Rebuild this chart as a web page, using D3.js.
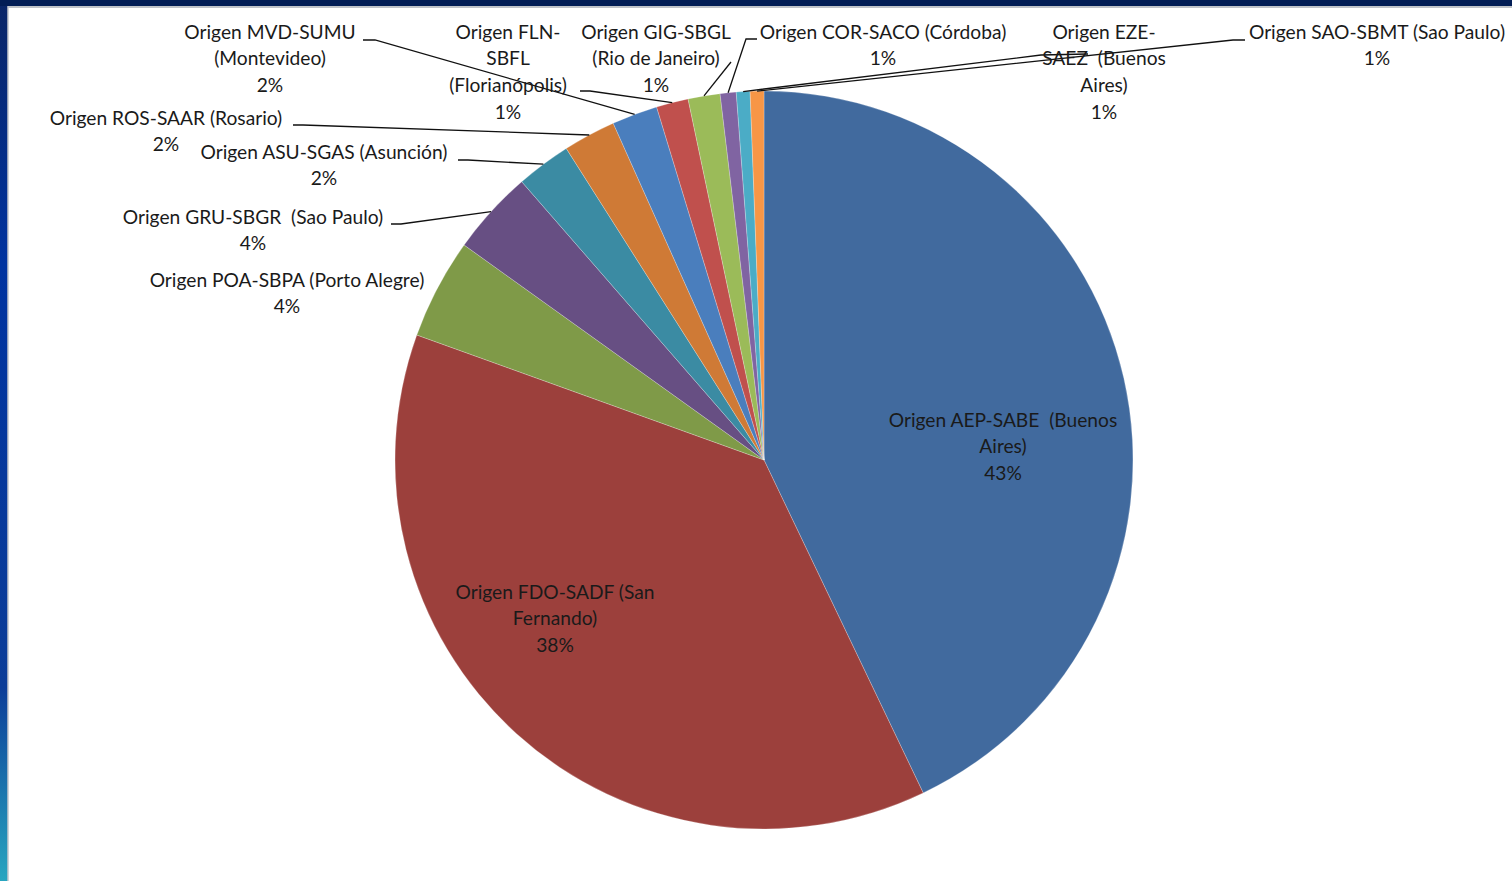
<!DOCTYPE html>
<html>
<head>
<meta charset="utf-8">
<script src="https://cdn.jsdelivr.net/npm/d3@7"></script>
<style>
  html, body { margin: 0; padding: 0; background: #fff; overflow: hidden; }
  svg { display: block; }
  text { font-family: Lato, "Open Sans", sans-serif; white-space: pre; }
</style>
</head>
<body>
<svg id="chart" width="1512" height="881"></svg>
<script>
// ---- data ----
const categories = [
  ["Origen AEP-SABE  (Buenos", "Aires)"],
  ["Origen FDO-SADF (San", "Fernando)"],
  ["Origen POA-SBPA (Porto Alegre)"],
  ["Origen GRU-SBGR  (Sao Paulo)"],
  ["Origen ASU-SGAS (Asunción)"],
  ["Origen ROS-SAAR (Rosario)"],
  ["Origen MVD-SUMU", "(Montevideo)"],
  ["Origen FLN-", "SBFL", "(Florianópolis)"],
  ["Origen GIG-SBGL", "(Rio de Janeiro)"],
  ["Origen COR-SACO (Córdoba)"],
  ["Origen EZE-", "SAEZ  (Buenos", "Aires)"],
  ["Origen SAO-SBMT (Sao Paulo)"]
];
const values = [42.9, 37.6, 4.4, 3.7, 2.4, 2.3, 2.0, 1.4, 1.4, 0.7, 0.6, 0.6];
const colors = ["#416a9e", "#9c403c", "#7f9a48", "#674f83", "#3b8ba3", "#cf7a36",
                "#4a7ebd", "#c0504d", "#9bbb59", "#8064a2", "#4bacc6", "#f79646"];

// ---- layout (label anchors: centre x, first-line centre y; leader start) ----
const labelLayout = [
  { x: 1003, y: 420 },
  { x: 555, y: 592 },
  { x: 287, y: 280 },
  { x: 253, y: 217, lead: [[391, 224], [401, 224]] },
  { x: 324, y: 152, lead: [[458, 160], [468, 160]] },
  { x: 166, y: 118, lead: [[293, 125], [303, 125]] },
  { x: 270, y: 32,  lead: [[363, 40], [375, 40]] },
  { x: 508, y: 32,  lead: [[580, 91], [590, 91]] },
  { x: 656, y: 32,  lead: [[731, 62]] },
  { x: 883, y: 32,  lead: [[757, 39], [746, 39]] },
  { x: 1104, y: 32, lead: [[1088, 54], [1041, 55]] },
  { x: 1377, y: 32, lead: [[1245, 40], [1233, 40]] }
];

const W = 1512, H = 881;
const cx = 764, cy = 460, R = 369;
const lineH = 26.6;

const svg = d3.select("#chart");
const defs = svg.append("defs");
const g1 = defs.append("linearGradient").attr("id", "leftGrad")
  .attr("x1", 0).attr("y1", 0).attr("x2", 0).attr("y2", 1);
g1.append("stop").attr("offset", "0%").attr("stop-color", "#0a2566");
g1.append("stop").attr("offset", "30%").attr("stop-color", "#0033a0");
g1.append("stop").attr("offset", "78%").attr("stop-color", "#0c3d98");
g1.append("stop").attr("offset", "100%").attr("stop-color", "#28a6c0");

// frame
svg.append("rect").attr("x", 0).attr("y", 0).attr("width", W).attr("height", H).attr("fill", "#fff");
svg.append("rect").attr("x", 0).attr("y", 0).attr("width", 8).attr("height", H).attr("fill", "url(#leftGrad)");
svg.append("rect").attr("x", 0).attr("y", 0).attr("width", W).attr("height", 6).attr("fill", "#021d55");
svg.append("line").attr("x1", 8).attr("x2", W).attr("y1", 7).attr("y2", 7)
  .attr("stroke", "#bfc3c8").attr("stroke-width", 2);
svg.append("line").attr("x1", 8).attr("x2", 8).attr("y1", 6).attr("y2", H)
  .attr("stroke", "#c4c7cc").attr("stroke-width", 1.5);

const total = d3.sum(values);
const data = values.map((v, i) => ({ v, i }));
const pie = d3.pie().value(d => d.v).sort(null);
const arcs = pie(data);
const arc = d3.arc().innerRadius(0).outerRadius(R);

const gPie = svg.append("g").attr("transform", `translate(${cx},${cy})`);
gPie.selectAll("path").data(arcs).join("path")
  .attr("d", arc)
  .attr("fill", d => colors[d.data.i])
  .attr("stroke", "#ffffff").attr("stroke-width", 0.4).attr("stroke-opacity", 0.6);

// leader lines
const line = d3.line();
arcs.forEach(a => {
  const L = labelLayout[a.data.i];
  if (!L.lead) return;
  const mid = (a.startAngle + a.endAngle) / 2;
  const p = [cx + R * Math.sin(mid), cy - R * Math.cos(mid)];
  svg.append("path").attr("d", line([...L.lead, p]))
    .attr("fill", "none").attr("stroke", "#111").attr("stroke-width", 1.3);
});

// labels
arcs.forEach(a => {
  const i = a.data.i;
  const L = labelLayout[i];
  const lines = categories[i].concat([Math.round(a.data.v / total * 100) + "%"]);
  const t = svg.append("text").attr("text-anchor", "middle")
    .attr("font-size", 19.2).attr("fill", "#1a1a1a");
  lines.forEach((s, k) => {
    t.append("tspan").attr("x", L.x).attr("y", L.y + k * lineH)
      .attr("dy", "0.35em").text(s);
  });
});
</script>
</body>
</html>
